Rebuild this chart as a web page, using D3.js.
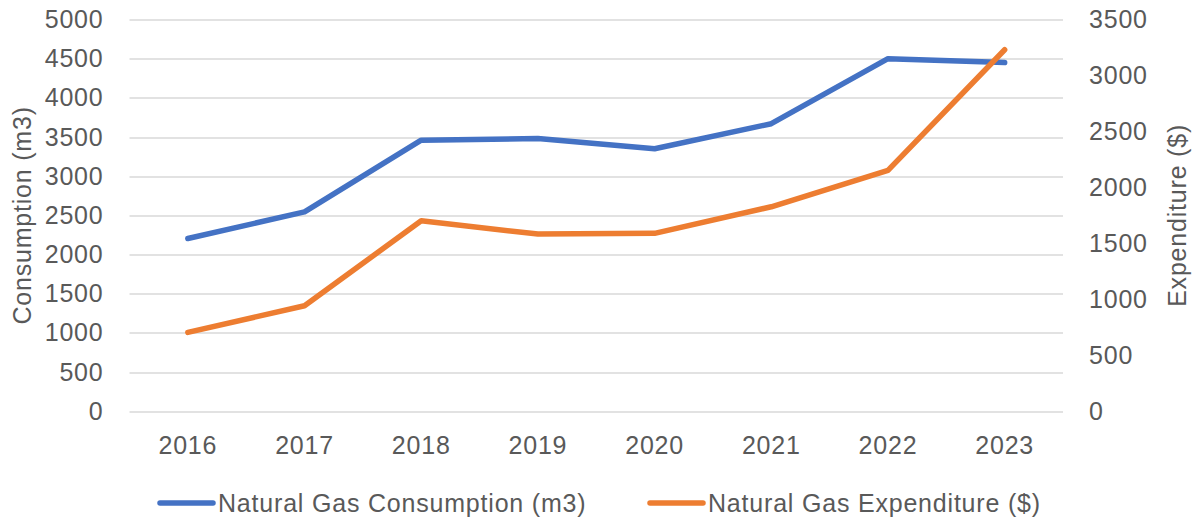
<!DOCTYPE html>
<html>
<head>
<meta charset="utf-8">
<script src="https://cdn.jsdelivr.net/npm/d3@7"></script>
<style>
  body { margin: 0; background: #fff; }
  text { font-family: "Liberation Sans", Arial, sans-serif; fill: #595959; letter-spacing: 0.8px; }
</style>
</head>
<body>
<script>
(function (d3) {
    'use strict';

    var years = ["2016", "2017", "2018", "2019", "2020", "2021", "2022", "2023"];
    var consumption = [2205, 2545, 3460, 3480, 3350, 3670, 4500, 4450];
    var expenditure = [705, 943, 1702, 1583, 1590, 1827, 2152, 3230];
    var leftTicks = [0, 500, 1000, 1500, 2000, 2500, 3000, 3500, 4000, 4500, 5000];
    var rightTicks = [0, 500, 1000, 1500, 2000, 2500, 3000, 3500];

    const W = 1195, H = 521;
    const margin = { top: 19.5, right: 132, bottom: 109.7, left: 129.5 };
    const width = W - margin.left - margin.right;
    const height = H - margin.top - margin.bottom;
    const fontSize = 25;

    var x = d3.scaleBand().domain(years).range([0, width]);
    var yL = d3.scaleLinear().domain([0, 5000]).range([height, 0]);
    var yR = d3.scaleLinear().domain([0, 3500]).range([height, 0]);

    var svg = d3.select("body").append("svg")
        .attr("width", W)
        .attr("height", H);

    var g = svg.append("g")
        .attr("transform", "translate(" + margin.left + "," + margin.top + ")");

    // gridlines
    g.append("g")
        .selectAll("line")
        .data(leftTicks)
        .enter().append("line")
        .attr("x1", 0)
        .attr("x2", width)
        .attr("y1", function (d) { return Math.round(yL(d)) + 0.5; })
        .attr("y2", function (d) { return Math.round(yL(d)) + 0.5; })
        .attr("stroke", "#d9d9d9")
        .attr("stroke-width", 1.5);

    function styleAxis(sel) {
        sel.select(".domain").remove();
        sel.selectAll("text")
            .attr("font-size", fontSize)
            .attr("fill", "#595959")
            .attr("font-family", "Liberation Sans, Arial, sans-serif");
    }

    // left axis
    g.append("g")
        .call(d3.axisLeft(yL).tickValues(leftTicks).tickFormat(d3.format("d")).tickSize(0).tickPadding(26))
        .call(styleAxis);

    // right axis
    g.append("g")
        .attr("transform", "translate(" + width + ",0)")
        .call(d3.axisRight(yR).tickValues(rightTicks).tickFormat(d3.format("d")).tickSize(0).tickPadding(26))
        .call(styleAxis);

    // bottom axis
    g.append("g")
        .attr("transform", "translate(0," + height + ")")
        .call(d3.axisBottom(x).tickSize(0).tickPadding(25))
        .call(styleAxis);

    // axis titles
    svg.append("text")
        .attr("transform", "translate(31," + (margin.top + height / 2) + ") rotate(-90)")
        .attr("text-anchor", "middle")
        .attr("font-size", fontSize)
        .text("Consumption (m3)");

    svg.append("text")
        .attr("transform", "translate(1186," + (margin.top + height / 2) + ") rotate(-90)")
        .attr("text-anchor", "middle")
        .attr("font-size", fontSize)
        .text("Expenditure ($)");

    var cx = function (d, i) { return x(years[i]) + x.bandwidth() / 2; };

    var line1 = d3.line()
        .x(cx)
        .y(function (d) { return yL(d); });
    var line2 = d3.line()
        .x(cx)
        .y(function (d) { return yR(d); });

    g.append("path")
        .datum(consumption)
        .attr("fill", "none")
        .attr("stroke", "#4472C4")
        .attr("stroke-width", 5.5)
        .attr("stroke-linecap", "round")
        .attr("stroke-linejoin", "round")
        .attr("d", line1);

    g.append("path")
        .datum(expenditure)
        .attr("fill", "none")
        .attr("stroke", "#ED7D31")
        .attr("stroke-width", 5.5)
        .attr("stroke-linecap", "round")
        .attr("stroke-linejoin", "round")
        .attr("d", line2);

    // legend
    var legendItems = [
        { name: "Natural Gas Consumption (m3)", color: "#4472C4", x: 160 },
        { name: "Natural Gas Expenditure ($)", color: "#ED7D31", x: 650 }
    ];
    var legend = svg.append("g")
        .selectAll("g")
        .data(legendItems)
        .enter().append("g")
        .attr("transform", function (d) { return "translate(" + d.x + ",503)"; });

    legend.append("line")
        .attr("x1", 0)
        .attr("x2", 53)
        .attr("stroke", function (d) { return d.color; })
        .attr("stroke-width", 5.5)
        .attr("stroke-linecap", "round");

    legend.append("text")
        .attr("x", 58)
        .attr("y", 8.5)
        .attr("font-size", fontSize)
        .text(function (d) { return d.name; });

})(d3);
</script>
</body>
</html>
